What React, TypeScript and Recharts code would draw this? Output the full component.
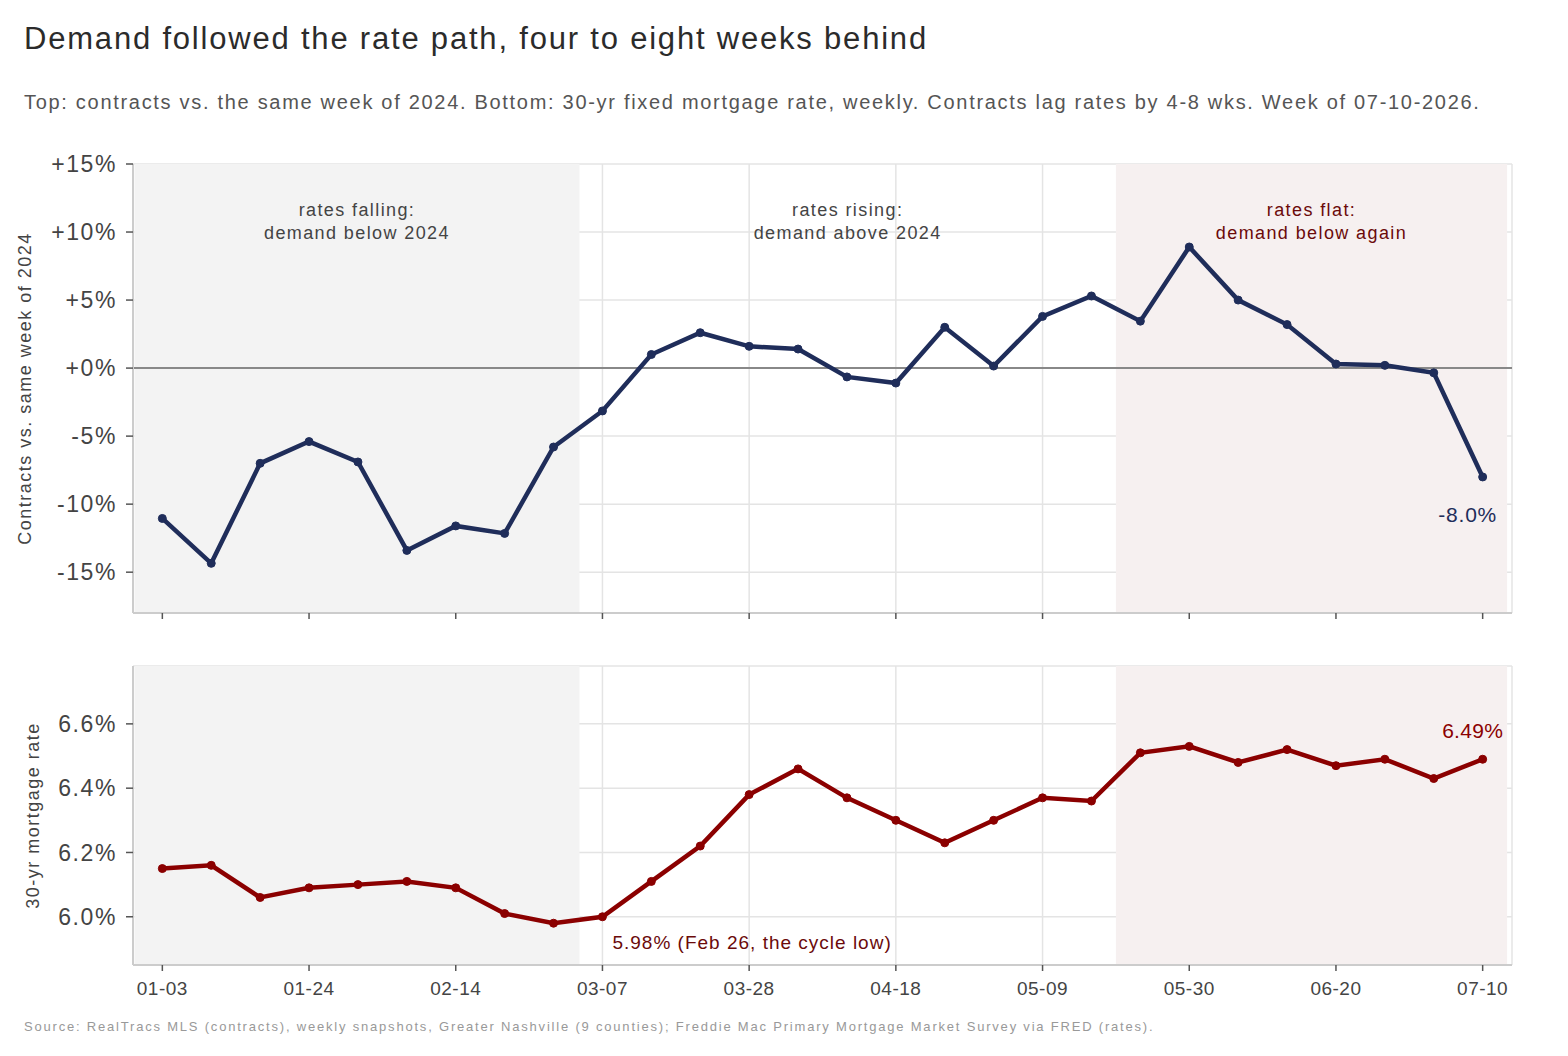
import React from 'react';
import {
  LineChart, Line, XAxis, YAxis, CartesianGrid, ReferenceArea, ReferenceLine, ReferenceDot,
} from 'recharts';

const weeks = ['01-03','01-10','01-17','01-24','01-31','02-07','02-14','02-21','02-28','03-07','03-14','03-21','03-28','04-04','04-11','04-18','04-25','05-02','05-09','05-16','05-23','05-30','06-06','06-13','06-20','06-27','07-04','07-10'];
const contractsYoY = [-11.05,-14.35,-7.0,-5.4,-6.9,-13.4,-11.6,-12.15,-5.8,-3.15,1.0,2.6,1.6,1.4,-0.65,-1.1,3.0,0.15,3.8,5.3,3.45,8.9,5.0,3.2,0.3,0.2,-0.35,-8.0];
const mortgageRate = [6.15,6.16,6.06,6.09,6.10,6.11,6.09,6.01,5.98,6.00,6.11,6.22,6.38,6.46,6.37,6.30,6.23,6.30,6.37,6.36,6.51,6.53,6.48,6.52,6.47,6.49,6.43,6.49];
const xTicks = [0,3,6,9,12,15,18,21,24,27];
const topTicks = [-15,-10,-5,0,5,10,15];
const bottomTicks = [6.0,6.2,6.4,6.6];

const data = weeks.map((w, i) => ({ i, week: w, yoy: contractsYoY[i], rate: mortgageRate[i] }));

const FONT = '"Liberation Sans", Arial, Helvetica, sans-serif';
const NAVY = '#1f2d5a';
const RED = '#8b0000';
const DARKRED = '#6b0a0a';
const GRID = '#e4e4e4';
const AXIS = '#cccccc';
const X_DOMAIN: [number, number] = [-0.6, 27.6];

const regionLabel = (l1: string, l2: string, color: string) => (props: any) => {
  const vb = props.viewBox || {};
  const cx = vb.x + vb.width / 2;
  const y = vb.y;
  const st = { letterSpacing: '1.4px' };
  return (
    <g>
      <text x={cx} y={y + 52} textAnchor="middle" fontSize={18} fill={color} fontFamily={FONT} style={st}>{l1}</text>
      <text x={cx} y={y + 75} textAnchor="middle" fontSize={18} fill={color} fontFamily={FONT} style={st}>{l2}</text>
    </g>
  );
};

const pointLabel = (text: string, color: string, dx: number, dy: number, anchor: string, size: number, ls: number) => (props: any) => {
  const vb = props.viewBox || {};
  const x = vb.x + (vb.width || 0) / 2;
  const y = vb.y + (vb.height || 0) / 2;
  return (
    <text x={x + dx} y={y + dy} textAnchor={anchor as any} fontSize={size} fill={color} fontFamily={FONT}
      style={{ letterSpacing: `${ls}px` }}>{text}</text>
  );
};

const axisTitle = (text: string, dx: number) => (props: any) => {
  const vb = props.viewBox || {};
  const x = vb.x + dx;
  const y = vb.y + vb.height / 2;
  return (
    <text x={x} y={y} transform={`rotate(-90, ${x}, ${y})`} textAnchor="middle" dominantBaseline="central"
      fontSize={18} fill="#444" fontFamily={FONT} style={{ letterSpacing: '1.5px' }}>{text}</text>
  );
};

const fmtTop = (v: number) => (v >= 0 ? `+${v}%` : `${v}%`);
const fmtBottom = (v: number) => `${v.toFixed(1)}%`;

const yTick = (fmt: (v: number) => string) => (props: any) => {
  const { x, y, payload } = props;
  return (
    <text x={x} y={y} dy="0.36em" textAnchor="end" fontSize={23} fill="#444" fontFamily={FONT}
      style={{ letterSpacing: '1.6px' }}>{fmt(payload.value)}</text>
  );
};

const xTickBottom = (props: any) => {
  const { x, y, payload } = props;
  return (
    <text x={x} y={y} dy="0.72em" textAnchor="middle" fontSize={19} fill="#444" fontFamily={FONT}
      style={{ letterSpacing: '0.5px' }}>{weeks[payload.value] ?? ''}</text>
  );
};

const xTickNone = () => <g />;

export default function App() {
  return (
    <div style={{ position: 'absolute', left: 0, top: 0, width: 1568, height: 1056, background: '#fff', fontFamily: FONT }}>
      <div style={{ position: 'absolute', left: 24, top: 23, fontSize: 31, lineHeight: 1, letterSpacing: '1.8px', color: '#2b2b2b', whiteSpace: 'nowrap' }}>
        Demand followed the rate path, four to eight weeks behind
      </div>
      <div style={{ position: 'absolute', left: 24, top: 92, fontSize: 20, lineHeight: 1, letterSpacing: '1.7px', color: '#555', whiteSpace: 'nowrap' }}>
        Top: contracts vs. the same week of 2024. Bottom: 30-yr fixed mortgage rate, weekly. Contracts lag rates by 4-8 wks. Week of 07-10-2026.
      </div>

      <div style={{ position: 'absolute', left: 0, top: 0 }}>
        <LineChart width={1568} height={640} data={data} margin={{ top: 164, right: 56, bottom: 0, left: 0 }}>
          <ReferenceArea x1={-0.57} x2={8.53} y1={-18} y2={15} fill="#f3f3f3" fillOpacity={1} stroke="none"
            label={regionLabel('rates falling:', 'demand below 2024', '#444')} />
          <ReferenceArea x1={8.53} x2={19.5} y1={-18} y2={15} fill="none" fillOpacity={0} stroke="none"
            label={regionLabel('rates rising:', 'demand above 2024', '#444')} />
          <ReferenceArea x1={19.5} x2={27.5} y1={-18} y2={15} fill="#f6f0f0" fillOpacity={1} stroke="none"
            label={regionLabel('rates flat:', 'demand below again', DARKRED)} />
          <CartesianGrid stroke={GRID} strokeWidth={1.5} />
          <XAxis dataKey="i" type="number" domain={X_DOMAIN} ticks={xTicks} allowDataOverflow
            tick={xTickNone} height={27} tickSize={6}
            axisLine={{ stroke: AXIS, strokeWidth: 2 }} tickLine={{ stroke: '#555', strokeWidth: 1.5 }} />
          <YAxis type="number" domain={[-18, 15]} ticks={topTicks} allowDataOverflow width={133}
            tick={yTick(fmtTop)} tickSize={7} tickMargin={9}
            axisLine={{ stroke: AXIS, strokeWidth: 2 }} tickLine={{ stroke: '#555', strokeWidth: 1.5 }}
            label={axisTitle('Contracts vs. same week of 2024', 25)} />
          <ReferenceLine y={0} stroke="#888" strokeWidth={2} />
          <Line dataKey="yoy" stroke={NAVY} strokeWidth={4.5} isAnimationActive={false}
            dot={{ r: 4, fill: NAVY, stroke: NAVY, strokeWidth: 1 }} activeDot={false} />
          <ReferenceDot x={27} y={contractsYoY[27]} r={0} stroke="none" fill="none"
            label={pointLabel(`${contractsYoY[27].toFixed(1)}%`, NAVY, -15, 45, 'middle', 21, 0.8)} />
        </LineChart>
      </div>

      <div style={{ position: 'absolute', left: 0, top: 640 }}>
        <LineChart width={1568} height={390} data={data} margin={{ top: 26, right: 56, bottom: 0, left: 0 }}>
          <ReferenceArea x1={-0.57} x2={8.53} y1={5.85} y2={6.78} fill="#f3f3f3" fillOpacity={1} stroke="none" />
          <ReferenceArea x1={19.5} x2={27.5} y1={5.85} y2={6.78} fill="#f6f0f0" fillOpacity={1} stroke="none" />
          <CartesianGrid stroke={GRID} strokeWidth={1.5} />
          <XAxis dataKey="i" type="number" domain={X_DOMAIN} ticks={xTicks} allowDataOverflow
            tick={xTickBottom} height={65} tickSize={6} tickMargin={10}
            axisLine={{ stroke: AXIS, strokeWidth: 2 }} tickLine={{ stroke: '#555', strokeWidth: 1.5 }} />
          <YAxis type="number" domain={[5.85, 6.78]} ticks={bottomTicks} allowDataOverflow width={133}
            tick={yTick(fmtBottom)} tickSize={7} tickMargin={9}
            axisLine={{ stroke: AXIS, strokeWidth: 2 }} tickLine={{ stroke: '#555', strokeWidth: 1.5 }}
            label={axisTitle('30-yr mortgage rate', 33)} />
          <Line dataKey="rate" stroke={RED} strokeWidth={4.5} isAnimationActive={false}
            dot={{ r: 4, fill: RED, stroke: RED, strokeWidth: 1 }} activeDot={false} />
          <ReferenceDot x={27} y={mortgageRate[27]} r={0} stroke="none" fill="none"
            label={pointLabel(`${mortgageRate[27].toFixed(2)}%`, RED, -10, -21, 'middle', 21, 0.3)} />
          <ReferenceDot x={9} y={mortgageRate[9]} r={0} stroke="none" fill="none"
            label={pointLabel(`${mortgageRate[8].toFixed(2)}% (Feb 26, the cycle low)`, DARKRED, 10, 32, 'start', 19, 1)} />
        </LineChart>
      </div>

      <div style={{ position: 'absolute', left: 24, top: 1020, fontSize: 13, lineHeight: 1, letterSpacing: '1.8px', color: '#999', whiteSpace: 'nowrap' }}>
        Source: RealTracs MLS (contracts), weekly snapshots, Greater Nashville (9 counties); Freddie Mac Primary Mortgage Market Survey via FRED (rates).
      </div>
    </div>
  );
}
